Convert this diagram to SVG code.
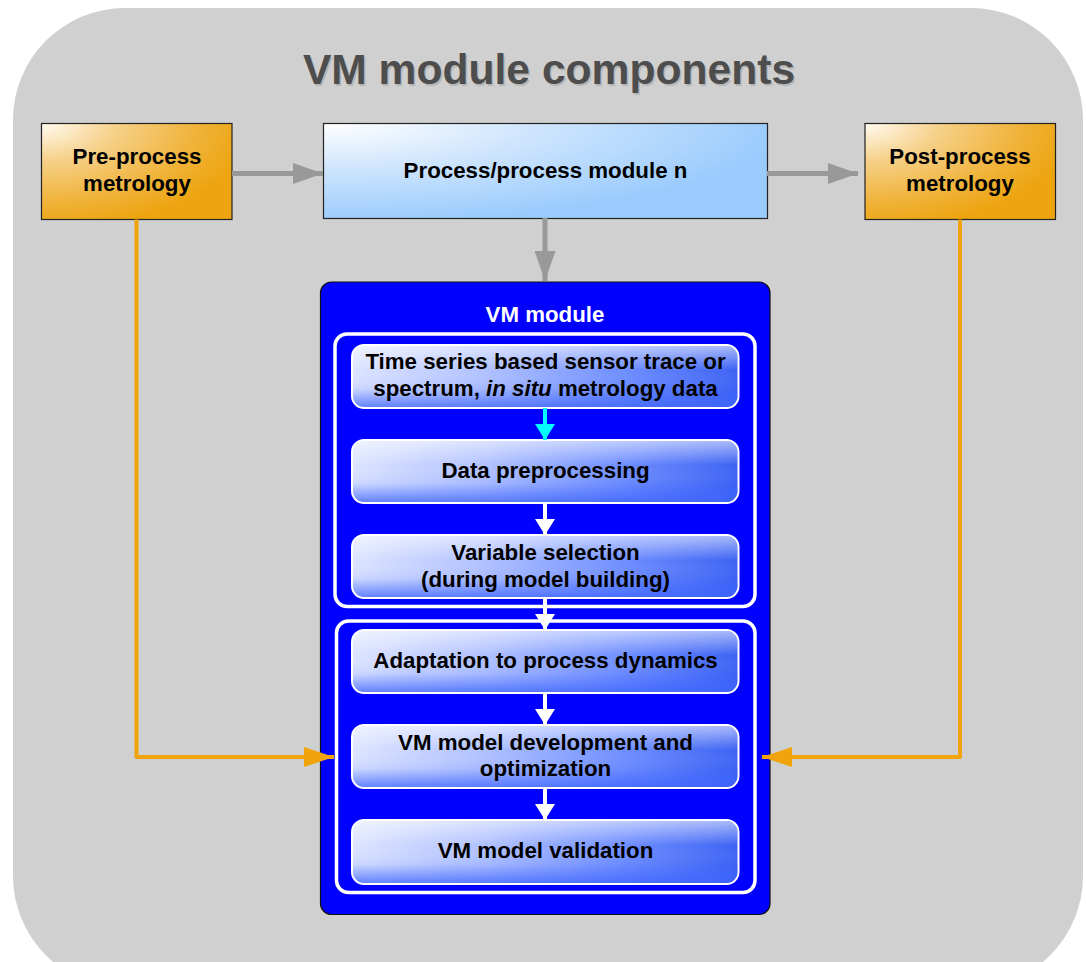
<svg xmlns="http://www.w3.org/2000/svg" width="1086" height="962" viewBox="0 0 1086 962">
  <defs>
    <radialGradient id="gOrange" cx="0" cy="0" r="1.1" fx="0" fy="0" gradientUnits="objectBoundingBox">
      <stop offset="0" stop-color="#FFFBF2"/>
      <stop offset="0.35" stop-color="#F6D18A"/>
      <stop offset="0.75" stop-color="#F0B238"/>
      <stop offset="1" stop-color="#EDA410"/>
    </radialGradient>
    <radialGradient id="gSky" cx="0" cy="0" r="1.05" fx="0" fy="0" gradientUnits="objectBoundingBox">
      <stop offset="0" stop-color="#FFFFFF"/>
      <stop offset="0.45" stop-color="#CFE5FD"/>
      <stop offset="1" stop-color="#99CBFD"/>
    </radialGradient>
    <linearGradient id="gStepH" x1="0" y1="0" x2="1" y2="0">
      <stop offset="0" stop-color="#DCE4FF"/>
      <stop offset="0.35" stop-color="#AFC0FF"/>
      <stop offset="0.7" stop-color="#6F8EFF"/>
      <stop offset="1" stop-color="#3C62F3"/>
    </linearGradient>
    <linearGradient id="gStepV" x1="0" y1="0" x2="0" y2="1">
      <stop offset="0" stop-color="#FFFFFF" stop-opacity="0.55"/>
      <stop offset="0.4" stop-color="#FFFFFF" stop-opacity="0"/>
      <stop offset="0.7" stop-color="#3D64FF" stop-opacity="0.1"/>
      <stop offset="1" stop-color="#3D64FF" stop-opacity="0.75"/>
    </linearGradient>
    <marker id="mGray" markerUnits="userSpaceOnUse" viewBox="0 0 30 21" refX="30" refY="10.5" markerWidth="30" markerHeight="21" orient="auto">
      <path d="M0,0 L30,10.5 L0,21 Z" fill="#999999"/>
    </marker>
    <marker id="mOrange" markerUnits="userSpaceOnUse" viewBox="0 0 30 20" refX="30" refY="10" markerWidth="30" markerHeight="20" orient="auto">
      <path d="M0,0 L30,10 L0,20 Z" fill="#F0A30A"/>
    </marker>
    <marker id="mWhite" markerUnits="userSpaceOnUse" viewBox="0 0 16 20" refX="16" refY="10" markerWidth="16" markerHeight="20" orient="auto">
      <path d="M0,0 L16,10 L0,20 Z" fill="#FFFFFF"/>
    </marker>
    <marker id="mCyan" markerUnits="userSpaceOnUse" viewBox="0 0 16 20" refX="16" refY="10" markerWidth="16" markerHeight="20" orient="auto">
      <path d="M0,0 L16,10 L0,20 Z" fill="#00FFFF"/>
    </marker>
  </defs>
  <style>
    text { font-family: "Liberation Sans", Arial, sans-serif; font-weight: bold; text-anchor: middle; }
    .lbl { font-size: 22.3px; fill: #000000; }
    .title { font-size: 42.6px; fill: #4D4D4D; }
    .titleShadow { font-size: 42.6px; fill: #000000; opacity: 0.12; }
    .white { font-size: 22.3px; fill: #FFFFFF; }
    .metro { fill: url(#gOrange); stroke: #222222; stroke-width: 1.2; }
    .proc { fill: url(#gSky); stroke: #222222; stroke-width: 1.2; }
    .step { fill: url(#gStepH); stroke: #FFFFFF; stroke-width: 2; }
    .stepShade { fill: url(#gStepV); stroke: none; }
    .frame { fill: none; stroke: #FFFFFF; stroke-width: 3.5; }
    .gray { fill: none; stroke: #999999; stroke-width: 5; }
    .orange { fill: none; stroke: #F0A30A; stroke-width: 4; stroke-linejoin: round; }
    .wline { fill: none; stroke: #FFFFFF; stroke-width: 4; }
    .cline { fill: none; stroke: #00FFFF; stroke-width: 4; }
  </style>

  <!-- background panel -->
  <rect x="13" y="8" width="1070" height="980" rx="112" ry="112" fill="#D0D0D0"/>

  <g id="title">
    <text class="titleShadow" x="550.5" y="85.5">VM module components</text>
    <text class="title" x="549" y="84">VM module components</text>
  </g>

  <g id="pre-process">
    <rect class="metro" x="41.5" y="123.5" width="190.5" height="96"/>
    <text class="lbl" x="137" y="164">Pre-process</text>
    <text class="lbl" x="137" y="191">metrology</text>
  </g>

  <g id="process">
    <rect class="proc" x="323.5" y="123.5" width="444" height="95"/>
    <text class="lbl" x="545.5" y="178">Process/process module n</text>
  </g>

  <g id="post-process">
    <rect class="metro" x="865" y="123.5" width="190.5" height="96"/>
    <text class="lbl" x="960" y="164">Post-process</text>
    <text class="lbl" x="960" y="191">metrology</text>
  </g>

  <g id="vm-module">
    <rect x="320.5" y="282" width="449.5" height="632.5" rx="11" ry="11" fill="#0000FF" stroke="#111111" stroke-width="1.2"/>
    <text class="white" x="545" y="322">VM module</text>
    <rect class="frame" x="335" y="334" width="420" height="272.5" rx="12" ry="12"/>
    <rect class="frame" x="336.5" y="621" width="418.5" height="271.5" rx="12" ry="12"/>
  </g>

  <g id="step-sensor-data">
    <rect class="step" x="352" y="345" width="386.5" height="63" rx="12" ry="12"/>
    <rect class="stepShade" x="353" y="346" width="384.5" height="61" rx="11" ry="11"/>
    <text class="lbl" x="545.5" y="369">Time series based sensor trace or</text>
    <text class="lbl" x="545.5" y="396">spectrum, <tspan font-style="italic">in situ</tspan> metrology data</text>
  </g>

  <g id="step-preprocessing">
    <rect class="step" x="352" y="440" width="386.5" height="63" rx="12" ry="12"/>
    <rect class="stepShade" x="353" y="441" width="384.5" height="61" rx="11" ry="11"/>
    <text class="lbl" x="545.5" y="478">Data preprocessing</text>
  </g>

  <g id="step-variable-selection">
    <rect class="step" x="352" y="535" width="386.5" height="63" rx="12" ry="12"/>
    <rect class="stepShade" x="353" y="536" width="384.5" height="61" rx="11" ry="11"/>
    <text class="lbl" x="545.5" y="560">Variable selection</text>
    <text class="lbl" x="545.5" y="587">(during model building)</text>
  </g>

  <g id="step-adaptation">
    <rect class="step" x="352" y="630" width="386.5" height="63" rx="12" ry="12"/>
    <rect class="stepShade" x="353" y="631" width="384.5" height="61" rx="11" ry="11"/>
    <text class="lbl" x="545.5" y="668">Adaptation to process dynamics</text>
  </g>

  <g id="step-model-development">
    <rect class="step" x="352" y="725" width="386.5" height="63" rx="12" ry="12"/>
    <rect class="stepShade" x="353" y="726" width="384.5" height="61" rx="11" ry="11"/>
    <text class="lbl" x="545.5" y="750">VM model development and</text>
    <text class="lbl" x="545.5" y="776">optimization</text>
  </g>

  <g id="step-validation">
    <rect class="step" x="352" y="820" width="386.5" height="64" rx="12" ry="12"/>
    <rect class="stepShade" x="353" y="821" width="384.5" height="62" rx="11" ry="11"/>
    <text class="lbl" x="545.5" y="858">VM model validation</text>
  </g>

  <g id="connectors">
    <!-- process chain -->
    <line class="gray" x1="232" y1="173.5" x2="323" y2="173.5" marker-end="url(#mGray)"/>
    <line class="gray" x1="767" y1="173.5" x2="858" y2="173.5" marker-end="url(#mGray)"/>
    <line class="gray" x1="545" y1="218" x2="545" y2="281" marker-end="url(#mGray)"/>
    <!-- metrology feedback -->
    <polyline class="orange" points="136.5,219.5 136.5,757 334,757" marker-end="url(#mOrange)"/>
    <polyline class="orange" points="960,219.5 960,757 762,757" marker-end="url(#mOrange)"/>
    <!-- step flow -->
    <line class="cline" x1="545" y1="408" x2="545" y2="440" marker-end="url(#mCyan)"/>
    <line class="wline" x1="545" y1="503" x2="545" y2="535" marker-end="url(#mWhite)"/>
    <line class="wline" x1="545" y1="598" x2="545" y2="630" marker-end="url(#mWhite)"/>
    <line class="wline" x1="545" y1="693" x2="545" y2="725" marker-end="url(#mWhite)"/>
    <line class="wline" x1="545" y1="788" x2="545" y2="820" marker-end="url(#mWhite)"/>
  </g>
</svg>
